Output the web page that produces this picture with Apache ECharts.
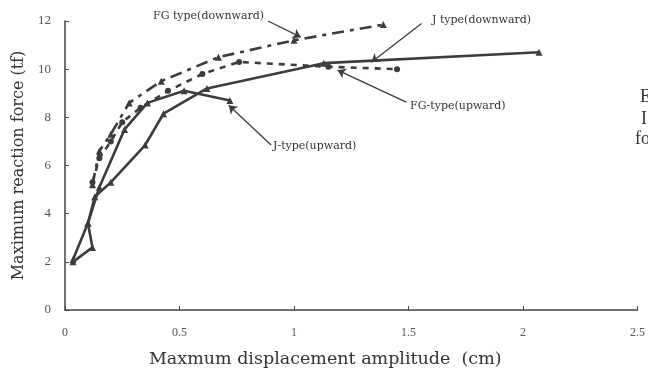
<!DOCTYPE html>
<html><head><meta charset="utf-8">
<script src="https://cdn.jsdelivr.net/npm/echarts@6/dist/echarts.min.js"></script>
<style>html,body{margin:0;padding:0;background:#fff}#c{width:648px;height:376px}</style>
</head><body><div id="c"></div>
<script>
// Data (x: displacement cm, y: force tf)
var jDownX = [0.035, 0.12, 0.10, 0.13, 0.20, 0.35, 0.43, 0.62, 1.13, 2.07];
var jDownY = [2.0, 2.6, 3.6, 4.7, 5.3, 6.85, 8.15, 9.2, 10.25, 10.7];
var jUpX = [0.035, 0.10, 0.15, 0.26, 0.36, 0.52, 0.72];
var jUpY = [2.1, 3.6, 5.1, 7.5, 8.6, 9.1, 8.7];
var fgDownX = [0.12, 0.15, 0.20, 0.28, 0.42, 0.67, 1.00, 1.39];
var fgDownY = [5.2, 6.6, 7.3, 8.6, 9.5, 10.5, 11.2, 11.85];
var fgUpX = [0.12, 0.15, 0.20, 0.25, 0.33, 0.45, 0.60, 0.76, 1.15, 1.45];
var fgUpY = [5.3, 6.3, 7.0, 7.8, 8.4, 9.1, 9.8, 10.3, 10.1, 10.0];
var xTicks = [0, 0.5, 1, 1.5, 2, 2.5];
var yTicks = [0, 2, 4, 6, 8, 10, 12];
var labels = ['FG type(downward)', 'J type(downward)', 'FG-type(upward)', 'J-type(upward)'];
// annotation arrows: [fromX, fromY, toX, toY]
var arrowFgDown = [0.886, 12.0, 1.03, 11.33];
var arrowJDown = [1.557, 11.9, 1.338, 10.29];
var arrowFgUp = [1.49, 8.63, 1.19, 9.96];
var arrowJUp = [0.90, 6.85, 0.715, 8.5];

function pairs(xs, ys){ return xs.map(function(x,i){return [x, ys[i]];}); }
var ink = '#3c3c3c';
function arrow(a){
  return {
    silent: true, symbol: ['none','arrow'], symbolSize: 8,
    lineStyle: {color: ink, width: 1.3, type: 'solid'},
    itemStyle: {color: ink},
    label: {show: false},
    emphasis: {disabled: true},
    data: [[{coord: [a[0], a[1]]}, {coord: [a[2], a[3]]}]]
  };
}
var serif = '"Liberation Serif", "DejaVu Serif", serif';
var wide = '"DejaVu Serif", serif';
var chart = echarts.init(document.getElementById('c'), null, {renderer: 'canvas'});
chart.setOption({
  animation: false,
  backgroundColor: '#fff',
  grid: {left: 65, right: 9, top: 21, bottom: 66},
  xAxis: {
    type: 'value', min: 0, max: 2.5, interval: 0.5,
    name: 'Maxmum displacement amplitude  (cm)', nameLocation: 'middle', nameGap: 40,
    nameTextStyle: {fontFamily: wide, fontSize: 17.5, color: '#333', padding: [0, 52, 0, 0]},
    axisLine: {lineStyle: {color: '#444', width: 1.5}},
    axisTick: {inside: true, length: 4, lineStyle: {color: '#444'}},
    splitLine: {show: false},
    axisLabel: {fontFamily: serif, fontSize: 12, color: '#555', margin: 17,
      formatter: function(v){ return xTicks.indexOf(v) >= 0 ? String(v) : ''; }}
  },
  yAxis: {
    type: 'value', min: 0, max: 12, interval: 2,
    name: 'Maximum reaction force (tf)', nameLocation: 'middle', nameGap: 38,
    nameTextStyle: {fontFamily: wide, fontSize: 16, color: '#333'},
    axisLine: {show: true, lineStyle: {color: '#444', width: 1.5}},
    axisTick: {show: true, inside: true, length: 4, lineStyle: {color: '#444'}},
    splitLine: {show: false},
    axisLabel: {fontFamily: serif, fontSize: 13, color: '#555', margin: 14,
      formatter: function(v){ return yTicks.indexOf(v) >= 0 ? String(v) : ''; }}
  },
  series: [
    {type: 'line', name: labels[1], data: pairs(jDownX, jDownY), symbol: 'triangle', symbolSize: 7,
      itemStyle: {color: ink}, lineStyle: {color: ink, width: 2.6}, markLine: arrow(arrowJDown)},
    {type: 'line', name: labels[3], data: pairs(jUpX, jUpY), symbol: 'triangle', symbolSize: 7,
      itemStyle: {color: ink}, lineStyle: {color: ink, width: 2.6}, markLine: arrow(arrowJUp)},
    {type: 'line', name: labels[0], data: pairs(fgDownX, fgDownY), symbol: 'triangle', symbolSize: 7,
      itemStyle: {color: ink}, lineStyle: {color: ink, width: 2.6, type: [12, 6, 4, 6]}, markLine: arrow(arrowFgDown)},
    {type: 'line', name: labels[2], data: pairs(fgUpX, fgUpY), symbol: 'circle', symbolSize: 6,
      itemStyle: {color: ink}, lineStyle: {color: ink, width: 2.6, type: [6, 6]}, markLine: arrow(arrowFgUp)}
  ],
  graphic: [
    {type: 'text', left: 153, top: 11, style: {text: labels[0], font: '11px ' + wide, fill: '#333'}},
    {type: 'text', left: 432, top: 15, style: {text: labels[1], font: '11px ' + wide, fill: '#333'}},
    {type: 'text', left: 410, top: 101, style: {text: labels[2], font: '11px ' + wide, fill: '#333'}},
    {type: 'text', left: 273, top: 141, style: {text: labels[3], font: '11px ' + wide, fill: '#333'}},
    {type: 'text', left: 640, top: 88, style: {text: 'E', font: '18px ' + serif, fill: '#333'}},
    {type: 'text', left: 641, top: 110, style: {text: 'I', font: '18px ' + serif, fill: '#333'}},
    {type: 'text', left: 635, top: 130, style: {text: 'fo', font: '18px ' + serif, fill: '#333'}}
  ]
});
</script></body></html>
